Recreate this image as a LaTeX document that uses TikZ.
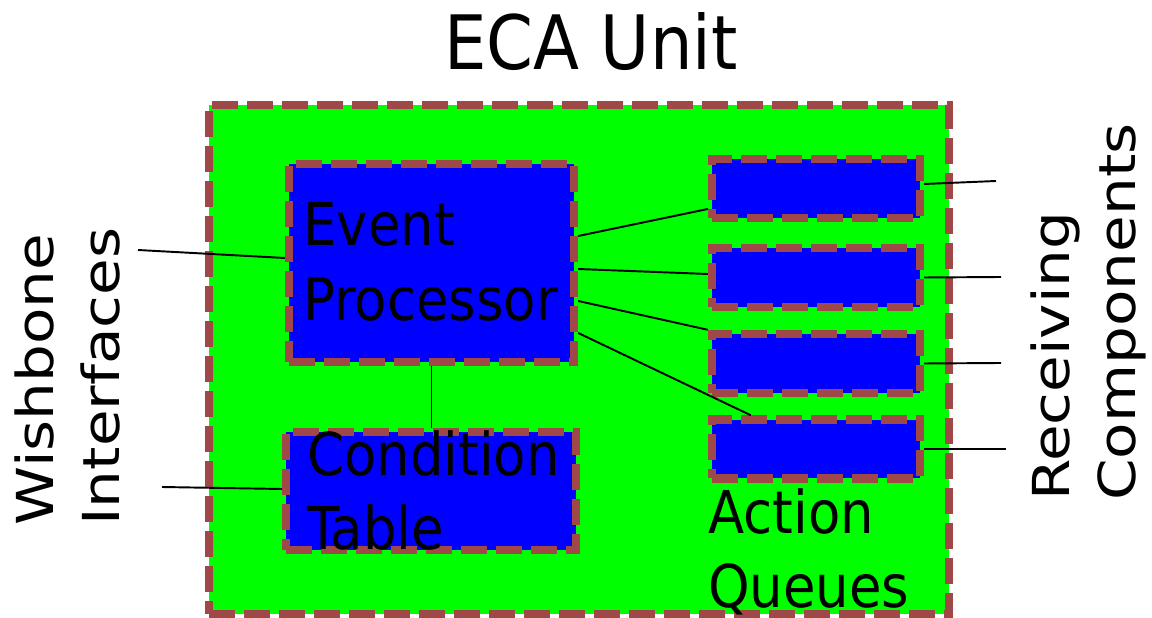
\documentclass[tikz,border=0pt]{standalone}
\usepackage{fontspec}
\setmainfont{DejaVu Sans}[FakeStretch=0.895]
\newfontfamily\sidefont{DejaVu Sans}[FakeStretch=1.17]
\usetikzlibrary{calc}
\definecolor{dashred}{RGB}{160,72,72}

\begin{document}
\begin{tikzpicture}[x=0.02cm, y=0.02cm,
unit/.style = {shape=rectangle, draw=dashred, line width=4.8pt,
    dash pattern=on 0.52cm off 0.18cm, inner sep=0pt},
block/.style = {unit, fill=blue},
queue/.style = {block, minimum width=4.16cm, minimum height=1.18cm},
wire/.style = {draw=black, line width=1.1pt},
txt/.style = {inner sep=0pt, align=left, anchor=north west,
    font=\fontsize{33.6}{42.5}\selectfont},
sidetxt/.style = {inner sep=0pt, align=left, rotate=90, anchor=north west,
    font=\sidefont\fontsize{29}{38}\selectfont}]
\useasboundingbox (0,0) rectangle (1152,618);

\node [unit, fill=green, minimum width=14.8cm, minimum height=10.18cm] (eca) at (579,258.5) {};
\node [block, minimum width=5.7cm, minimum height=3.96cm] (ep) at (431.5,355) {};
\node [block, minimum width=5.8cm, minimum height=2.36cm] (ct) at (431,127) {};
\foreach \i/\y in {1/429.5, 2/340.5, 3/254.5, 4/169}
  \node [queue] (q\i) at (816,\y) {};

\coordinate (wb1) at (138,368);
\coordinate (wb2) at (162,131);
\coordinate (rc1) at (996,437);
\coordinate (rc2) at (1001,341);
\coordinate (rc3) at (1001,255);
\coordinate (rc4) at (1006,169);

\draw [wire] (wb1) -- ([yshift=0.1cm]ep.west);
\draw [wire] (wb2) -- ([yshift=0.04cm]ct.west);
\draw [wire] (ep.south) -- (ep.south |- ct.north);
\draw [wire] ([yshift=0.54cm]ep.east) -- ([yshift=-0.41cm]q1.west);
\draw [wire] ([yshift=-0.12cm]ep.east) -- ([yshift=0.07cm]q2.west);
\draw [wire] ([yshift=-0.76cm]ep.east) -- (q3.north west);
\draw [wire] ([yshift=-1.4cm]ep.east) -- ([xshift=0.86cm]q4.north west);
\draw [wire] ([yshift=0.09cm]q1.east) -- (rc1);
\draw [wire] (q2.east) -- (rc2);
\draw [wire] (q3.east) -- (rc3);
\draw [wire] (q4.east) -- (rc4);

\node [anchor=base, inner sep=0pt, font=\fontsize{42.7}{50}\selectfont] (title) at (591,548) {ECA Unit};
\node [txt] (eptext) at (303,416) {Event\\Processor};
\node [txt] (cttext) at (307,188) {Condition\\Table};
\node [txt] (aqtext) at (708,130) {Action\\Queues};
\node [sidetxt] (wbtext) at (14,92) {Wishbone\\Interfaces};
\node [sidetxt] (rctext) at (1030,117) {Receiving\\Components};
\end{tikzpicture}
\end{document}
